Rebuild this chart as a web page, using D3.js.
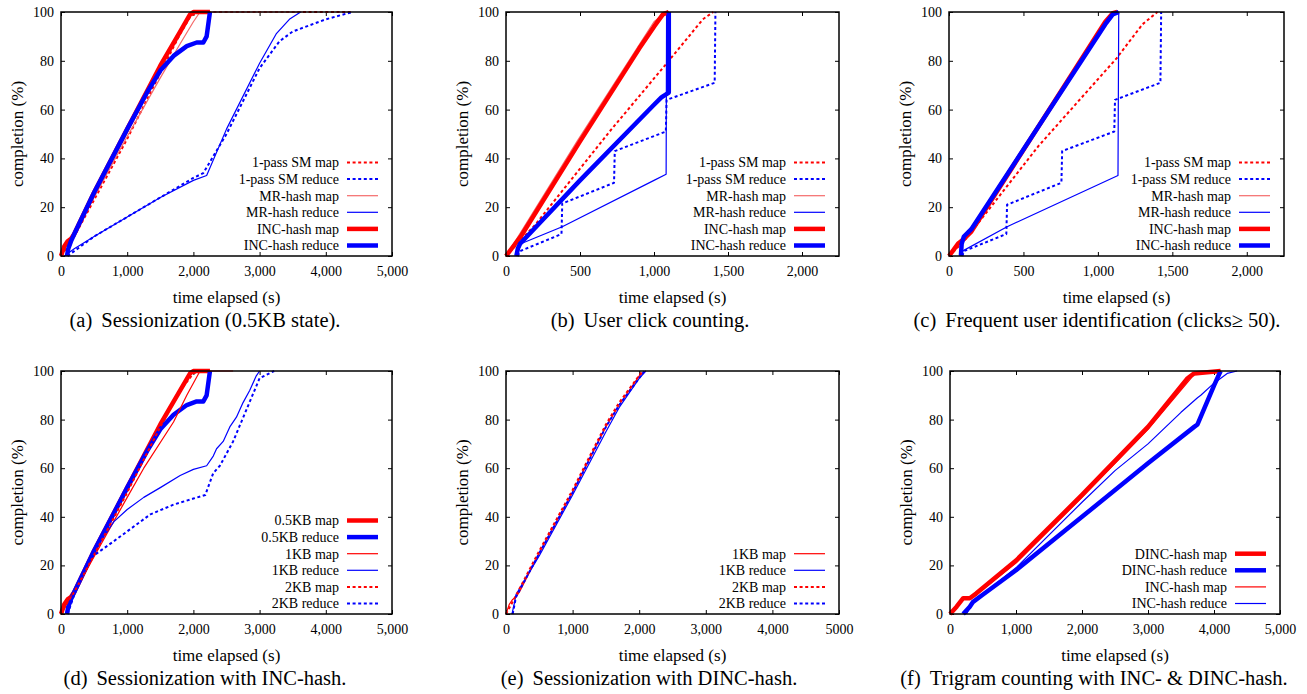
<!DOCTYPE html>
<html>
<head>
<meta charset="utf-8">
<script src="https://cdn.jsdelivr.net/npm/d3@7"></script>
<style>
  body { margin: 0; background: #fff; }
  svg text { font-family: "Liberation Serif", "Times New Roman", serif; fill: #000; }
</style>
</head>
<body>
<svg id="chart" width="1307" height="694"></svg>
<script>
// tick values / labels
var yTicks = [0, 20, 40, 60, 80, 100];
var xTicks5000 = [0, 1000, 2000, 3000, 4000, 5000];
var xLabels5000 = ["0", "1,000", "2,000", "3,000", "4,000", "5,000"];
var xLabelsE = ["0", "1,000", "2,000", "3,000", "4,000", "5000"];
var xTicks2250 = [0, 500, 1000, 1500, 2000];
var xLabels2250 = ["0", "500", "1,000", "1,500", "2,000"];

// (a) sessionization 0.5KB state  [time s, completion %]
var aSmMap = [[0,0],[100,4],[200,8],[1000,48],[1500,75],[1800,91],[1950,98],[2050,100],[4400,100]];
var aSmReduce = [[100,0],[500,8],[1000,16],[1500,24],[2000,32],[2150,34],[2500,50],[3000,77],[3300,88],[3500,92],[4000,97],[4400,100]];
var aMrMap = [[0,0],[100,5],[200,9],[1000,49],[1500,73],[1800,87],[2000,96],[2100,100],[3650,100]];
var aMrReduce = [[50,0],[200,3],[500,8],[1000,16],[1500,24],[2000,31],[2200,33],[2500,52],[3000,79],[3250,91],[3450,97],[3620,100]];
var aIncMap = [[0,0],[50,4],[100,6],[150,7],[200,9],[500,26],[1000,52],[1500,78],[1800,92],[1950,99],[2000,100],[2250,100]];
var aIncReduce = [[90,0],[110,3],[150,6],[200,9],[500,26],[1000,52],[1300,67],[1500,76],[1700,82],[1900,86],[2050,87.5],[2150,87.5],[2200,90],[2230,96],[2250,100]];

// (b) user click counting
var bSmMap = [[0,0],[200,13],[700,51],[1100,80],[1330,97],[1400,100]];
var bSmReduce = [[80,0],[95,2],[375,9],[380,21.5],[730,30],[735,43],[1080,51],[1085,64],[1410,71],[1415,100]];
var bMrMap = [[0,0],[480,47],[1000,96],[1080,100]];
var bMrReduce = [[70,0],[90,3],[100,5],[380,12],[1000,31],[1082,33.5],[1085,100],[1100,100]];
var bIncMap = [[0,0],[100,8],[500,47],[900,85],[1000,94],[1060,99],[1100,100]];
var bIncReduce = [[70,0],[80,3],[95,5],[500,31],[1000,62],[1050,65],[1100,67],[1100,100]];

// (c) frequent user identification
var cSmMap = [[0,0],[100,6],[600,45],[1125,81],[1300,95],[1400,100]];
var cSmReduce = [[90,0],[100,2],[385,9],[390,21],[755,30],[760,43],[1110,51],[1115,64],[1420,71],[1425,100]];
var cMrMap = [[0,0],[100,7],[1050,96],[1120,100]];
var cMrReduce = [[80,0],[90,2],[390,12],[1135,33],[1140,100]];
var cIncMap = [[0,0],[60,5],[100,7],[150,10],[1050,96],[1100,99.5],[1130,100]];
var cIncReduce = [[80,0],[85,5],[100,8],[150,11],[1050,95],[1100,99],[1140,100]];

// (d) sessionization with INC-hash, state sizes
var d05Map = [[0,0],[50,4],[100,6],[150,7],[200,9],[500,26],[1000,52],[1500,78],[1800,92],[1950,99],[2000,100],[2250,100]];
var d05Reduce = [[90,0],[110,3],[150,6],[200,9],[500,26],[1000,52],[1300,67],[1500,76],[1700,82],[1900,86],[2050,87.5],[2150,87.5],[2200,90],[2230,96],[2250,100]];
var d1Map = [[0,0],[100,5],[200,9],[1000,48],[1250,60],[1700,79],[1900,90],[2100,100],[2600,100]];
var d1Reduce = [[90,0],[150,6],[300,15],[500,26],[800,38],[1000,43],[1250,48],[1500,52],[1800,57],[2000,59.5],[2200,61],[2300,65],[2350,68],[2450,71],[2550,77],[2650,81],[2750,87],[2850,92],[2950,98],[3000,100]];
var d2Map = [[0,0],[100,5],[200,9],[1000,50],[1500,77],[1800,92],[2000,99],[2100,100]];
var d2Reduce = [[100,0],[200,8],[440,23],[800,30],[1000,34],[1350,41],[1700,45],[2000,47.5],[2180,49],[2300,58],[2400,61],[2600,71],[2800,84],[3000,97],[3220,100]];

// (e) sessionization with DINC-hash
var e1Map = [[0,0],[50,4],[100,6],[150,7],[200,9],[500,25],[1000,50],[1500,77],[1700,86],[2000,98],[2100,100]];
var e1Reduce = [[90,0],[130,5],[150,8],[500,24],[1000,49],[1500,75],[1700,85],[2000,97],[2100,100]];
var e2Map = [[0,0],[100,5],[500,26],[1000,51],[1500,78],[1700,87],[2050,100]];
var e2Reduce = [[100,0],[150,7],[500,25],[1000,50],[1500,77],[1700,86],[2080,100]];

// (f) trigram counting
var fDincMap = [[0,0],[100,3],[200,6.5],[300,6.5],[400,8.5],[1000,22],[2000,49],[3000,77],[3600,97],[3700,99],[4100,100]];
var fDincReduce = [[200,0],[300,3],[350,5],[500,8],[1000,18],[2000,40],[3000,62],[3700,77],[3750,78],[4000,94],[4100,100]];
var fIncMap = [[0,0],[200,6],[350,7],[1000,21],[2000,48],[3000,76],[3650,97],[3700,99],[4100,100]];
var fIncReduce = [[250,0],[350,5],[1000,19],[2000,46],[2500,59],[3000,70],[3500,83],[3750,89],[3800,90],[4000,95],[4200,99],[4350,100]];

var RED = "#ff0000", BLUE = "#0000ff", PINK = "#f46a6a";
var styles = {
  thick: { w: 4.5, dash: null },
  thin: { w: 1.2, dash: null },
  dot: { w: 2, dash: "3,2.6" }
};

var panels = [
  { cap: "(a)", text: "Sessionization (0.5KB state).", cx: 205, x0: 61, x1: 392, y0: 12, y1: 256, xmax: 5000,
    ticks: xTicks5000, labels: xLabels5000, legendRows: 6, series: [
      { name: "1-pass SM map", data: aSmMap, color: RED, style: "dot" },
      { name: "1-pass SM reduce", data: aSmReduce, color: BLUE, style: "dot" },
      { name: "MR-hash map", data: aMrMap, color: PINK, style: "thin" },
      { name: "MR-hash reduce", data: aMrReduce, color: BLUE, style: "thin" },
      { name: "INC-hash map", data: aIncMap, color: RED, style: "thick" },
      { name: "INC-hash reduce", data: aIncReduce, color: BLUE, style: "thick" } ] },
  { cap: "(b)", text: "User click counting.", cx: 650, x0: 506, x1: 839, y0: 12, y1: 256, xmax: 2250,
    ticks: xTicks2250, labels: xLabels2250, series: [
      { name: "1-pass SM map", data: bSmMap, color: RED, style: "dot" },
      { name: "1-pass SM reduce", data: bSmReduce, color: BLUE, style: "dot" },
      { name: "MR-hash map", data: bMrMap, color: PINK, style: "thin" },
      { name: "MR-hash reduce", data: bMrReduce, color: BLUE, style: "thin" },
      { name: "INC-hash map", data: bIncMap, color: RED, style: "thick" },
      { name: "INC-hash reduce", data: bIncReduce, color: BLUE, style: "thick" } ] },
  { cap: "(c)", text: "Frequent user identification (clicks\u2265 50).", cx: 1097, x0: 949, x1: 1284, y0: 12, y1: 256, xmax: 2250,
    ticks: xTicks2250, labels: xLabels2250, series: [
      { name: "1-pass SM map", data: cSmMap, color: RED, style: "dot" },
      { name: "1-pass SM reduce", data: cSmReduce, color: BLUE, style: "dot" },
      { name: "MR-hash map", data: cMrMap, color: PINK, style: "thin" },
      { name: "MR-hash reduce", data: cMrReduce, color: BLUE, style: "thin" },
      { name: "INC-hash map", data: cIncMap, color: RED, style: "thick" },
      { name: "INC-hash reduce", data: cIncReduce, color: BLUE, style: "thick" } ] },
  { cap: "(d)", text: "Sessionization with INC-hash.", cx: 205, x0: 61, x1: 392, y0: 371, y1: 614, xmax: 5000,
    ticks: xTicks5000, labels: xLabels5000, series: [
      { name: "0.5KB map", data: d05Map, color: RED, style: "thick" },
      { name: "0.5KB reduce", data: d05Reduce, color: BLUE, style: "thick" },
      { name: "1KB map", data: d1Map, color: RED, style: "thin" },
      { name: "1KB reduce", data: d1Reduce, color: BLUE, style: "thin" },
      { name: "2KB map", data: d2Map, color: RED, style: "dot" },
      { name: "2KB reduce", data: d2Reduce, color: BLUE, style: "dot" } ] },
  { cap: "(e)", text: "Sessionization with DINC-hash.", cx: 649, x0: 506, x1: 839, y0: 371, y1: 614, xmax: 5000,
    ticks: xTicks5000, labels: xLabelsE, series: [
      { name: "1KB map", data: e1Map, color: RED, style: "thin" },
      { name: "1KB reduce", data: e1Reduce, color: BLUE, style: "thin" },
      { name: "2KB map", data: e2Map, color: RED, style: "dot" },
      { name: "2KB reduce", data: e2Reduce, color: BLUE, style: "dot" } ] },
  { cap: "(f)", text: "Trigram counting with INC- & DINC-hash.", cx: 1094, x0: 950, x1: 1280, y0: 371, y1: 614, xmax: 5000,
    ticks: xTicks5000, labels: xLabels5000, series: [
      { name: "DINC-hash map", data: fDincMap, color: RED, style: "thick" },
      { name: "DINC-hash reduce", data: fDincReduce, color: BLUE, style: "thick" },
      { name: "INC-hash map", data: fIncMap, color: RED, style: "thin" },
      { name: "INC-hash reduce", data: fIncReduce, color: BLUE, style: "thin" } ] }
];

var svg = d3.select("#chart");
svg.append("rect").attr("width", 1307).attr("height", 694).attr("fill", "#fff");

panels.forEach(function(p) {
  var x = d3.scaleLinear().domain([0, p.xmax]).range([p.x0, p.x1]);
  var y = d3.scaleLinear().domain([0, 100]).range([p.y1, p.y0]);
  var g = svg.append("g");

  // axes, gnuplot style: ticks inside and mirrored
  var xAxis = d3.axisBottom(x).tickValues(p.ticks)
      .tickFormat(function(d, i) { return p.labels[i]; })
      .tickSizeInner(-4).tickSizeOuter(0).tickPadding(10);
  var yAxis = d3.axisLeft(y).tickValues(yTicks).tickSizeInner(-4).tickSizeOuter(0).tickPadding(7);

  g.append("g").attr("transform", "translate(0," + p.y1 + ")").call(xAxis);
  g.append("g").attr("transform", "translate(" + p.x0 + ",0)").call(yAxis);
  g.append("g").attr("transform", "translate(0," + p.y0 + ")")
    .call(d3.axisTop(x).tickValues(p.ticks).tickSizeInner(-4).tickSizeOuter(0).tickFormat(""));
  g.append("g").attr("transform", "translate(" + p.x1 + ",0)")
    .call(d3.axisRight(y).tickValues(yTicks).tickSizeInner(-4).tickSizeOuter(0).tickFormat(""));

  g.selectAll(".domain").remove();
  g.selectAll(".tick line").attr("stroke", "#000").attr("stroke-width", 1);
  g.selectAll(".tick text").attr("font-family", "Liberation Serif").attr("font-size", 14).attr("fill", "#000");

  // data lines
  var line = d3.line()
      .x(function(d) { return x(d[0]); })
      .y(function(d) { return y(d[1]); });

  p.series.forEach(function(s) {
    var st = styles[s.style];
    g.append("path")
      .datum(s.data)
      .attr("fill", "none")
      .attr("stroke", s.color)
      .attr("stroke-width", st.w)
      .attr("stroke-dasharray", st.dash)
      .attr("stroke-linejoin", "round")
      .attr("d", line);
  });

  // frame
  g.append("rect")
    .attr("x", p.x0).attr("y", p.y0)
    .attr("width", p.x1 - p.x0).attr("height", p.y1 - p.y0)
    .attr("fill", "none").attr("stroke", "#000").attr("stroke-width", 1.5);

  // legend, bottom right
  var n = p.series.length;
  p.series.forEach(function(s, i) {
    var ly = p.y1 - 10.5 - (n - 1 - i) * 16.6;
    var st = styles[s.style];
    g.append("text")
      .attr("x", p.x1 - 53).attr("y", ly).attr("dy", "0.35em")
      .attr("text-anchor", "end").attr("font-size", 14)
      .text(s.name);
    g.append("line")
      .attr("x1", p.x1 - 45).attr("x2", p.x1 - 14)
      .attr("y1", ly).attr("y2", ly)
      .attr("stroke", s.color).attr("stroke-width", st.w)
      .attr("stroke-dasharray", st.dash);
  });

  // axis titles
  g.append("text")
    .attr("x", (p.x0 + p.x1) / 2).attr("y", p.y1 + 41).attr("dy", "0.35em")
    .attr("text-anchor", "middle").attr("font-size", 17)
    .text("time elapsed (s)");
  g.append("text")
    .attr("transform", "translate(" + (p.x0 - 44) + "," + ((p.y0 + p.y1) / 2) + ") rotate(-90)")
    .attr("dy", "0.35em")
    .attr("text-anchor", "middle").attr("font-size", 17)
    .text("completion (%)");

  // caption
  var cap = g.append("text")
    .attr("x", p.cx).attr("y", p.y1 + 64).attr("dy", "0.35em")
    .attr("text-anchor", "middle").attr("font-size", 20.5);
  cap.append("tspan").text(p.cap);
  cap.append("tspan").attr("dx", 9).text(p.text);
});
</script>
</body>
</html>
